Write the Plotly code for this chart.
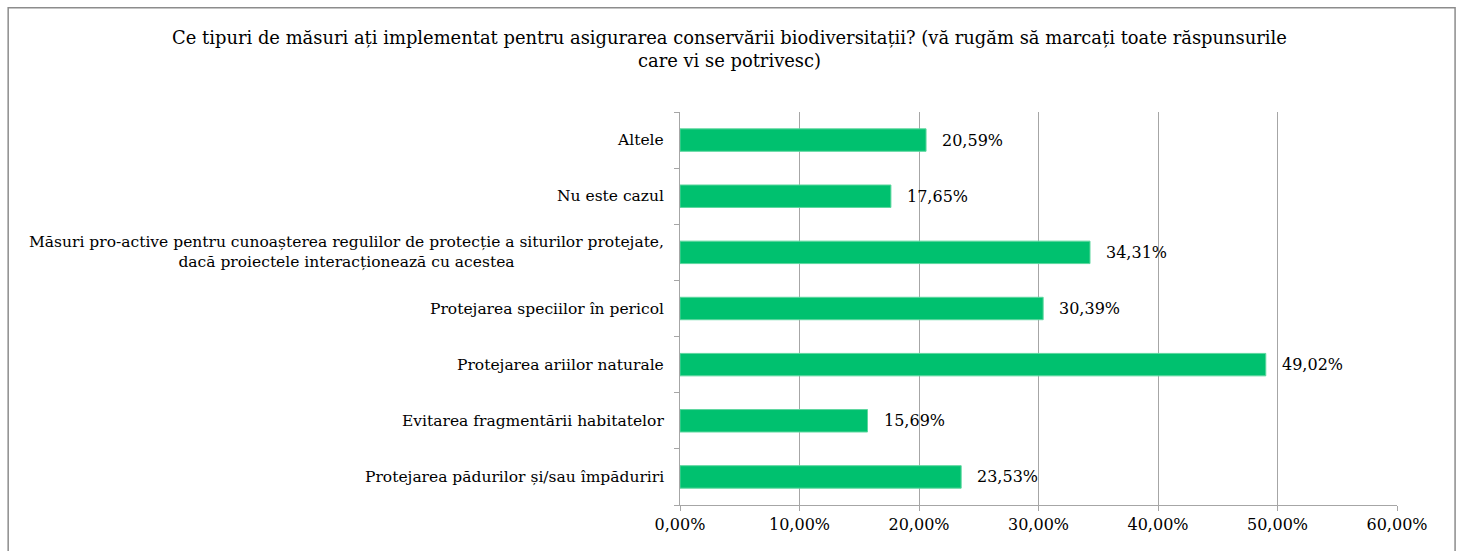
import plotly.graph_objects as go

categories = [
    "Protejarea pădurilor și/sau împăduriri",
    "Evitarea fragmentării habitatelor",
    "Protejarea ariilor naturale",
    "Protejarea speciilor în pericol",
    "Măsuri pro-active pentru cunoașterea regulilor de protecție a siturilor protejate,<br>dacă proiectele interacționează cu acestea",
    "Nu este cazul",
    "Altele",
]
values = [0.2353, 0.1569, 0.4902, 0.3039, 0.3431, 0.1765, 0.2059]
labels = ["23,53%", "15,69%", "49,02%", "30,39%", "34,31%", "17,65%", "20,59%"]
x_ticks = [0, 0.1, 0.2, 0.3, 0.4, 0.5, 0.6]

FONT = "DejaVu Serif"
GREEN = "#00C16F"
GRID = "#a6a6a6"

fig = go.Figure()
fig.add_trace(go.Bar(
    y=categories, x=values, orientation="h",
    marker=dict(color=GREEN, line=dict(color="#5ed79f", width=1)),
    width=0.4, hoverinfo="skip",
))

# value labels right of each bar
for c, v, t in zip(categories, values, labels):
    fig.add_annotation(x=v, y=c, text=t, showarrow=False, xanchor="left",
                       xshift=14, font=dict(family=FONT, size=16, color="black"))
# category labels, centred lines like the original
for c in categories:
    fig.add_annotation(x=0, y=c, xref="paper", text=c, showarrow=False,
                       xanchor="right", align="center", xshift=-14,
                       font=dict(family=FONT, size=15.5, color="black"))

# outer frame
fig.add_shape(type="rect", xref="paper", yref="paper",
              x0=-0.937, x1=1.081, y0=-0.2, y1=1.265,
              line=dict(color="#8c8c8c", width=1.5))

fig.update_layout(
    width=1459, height=551,
    margin=dict(l=680, r=62, t=112, b=46),
    plot_bgcolor="white", paper_bgcolor="white",
    separators=",.",
    showlegend=False,
    title=dict(
        text="Ce tipuri de măsuri ați implementat pentru asigurarea conservării biodiversitații? (vă rugăm să marcați toate răspunsurile<br>care vi se potrivesc)",
        x=0.5, xanchor="center", y=0.921, yanchor="middle",
        font=dict(family=FONT, size=17.9, color="black"),
    ),
    xaxis=dict(
        range=[0, 0.6], tickvals=x_ticks, tickformat=".2%",
        showgrid=True, gridcolor=GRID, gridwidth=1,
        showline=True, linecolor=GRID, linewidth=1,
        ticks="outside", ticklen=5, tickcolor=GRID,
        tickfont=dict(family=FONT, size=16, color="black"),
        zeroline=False,
    ),
    yaxis=dict(
        showticklabels=False, showgrid=False,
        showline=True, linecolor=GRID, linewidth=1,
        ticks="outside", ticklen=5, tickcolor=GRID, tickson="boundaries",
        range=[-0.5, 6.5],
    ),
)

# drop the browser's default 8px body margin so the figure fills the window
fig.write_html("out.html", config={"displayModeBar": False},
               post_script="document.body.style.margin='0px';document.body.style.overflow='hidden';")
